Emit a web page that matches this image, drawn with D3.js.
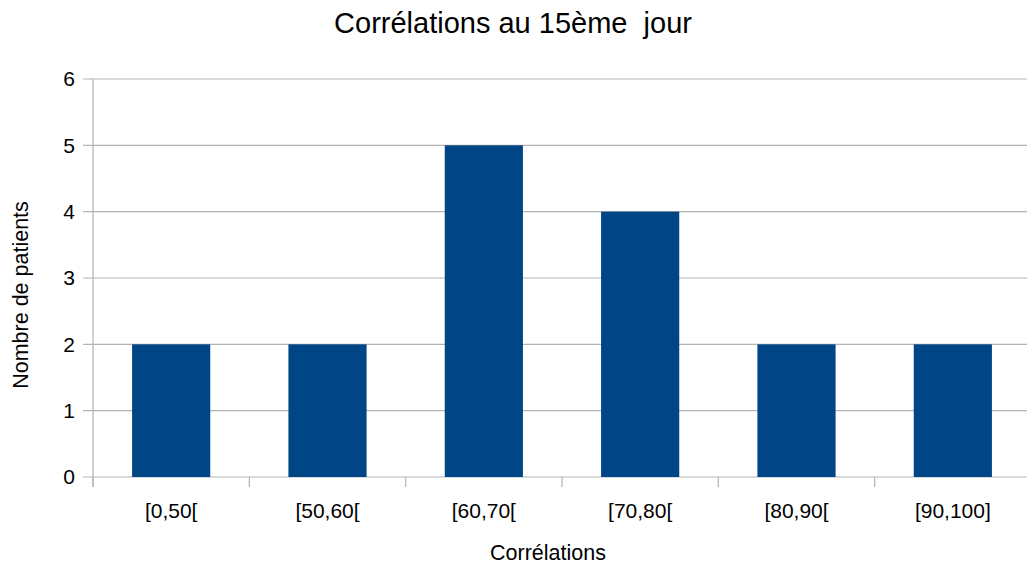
<!DOCTYPE html>
<html><head><meta charset="utf-8">
<script src="https://cdn.jsdelivr.net/npm/d3@7"></script>
<style>html,body{margin:0;padding:0;background:#fff;}svg{display:block;font-family:"Liberation Sans",Arial,sans-serif;}</style>
</head><body>
<svg id="c" width="1027" height="567"></svg>
<script>
const categories = ["[0,50[", "[50,60[", "[60,70[", "[70,80[", "[80,90[", "[90,100]"];
const values = [2, 2, 5, 4, 2, 2];
const yTicks = [0, 1, 2, 3, 4, 5, 6];
const title = "Corrélations au 15ème  jour";
const xTitle = "Corrélations";
const yTitle = "Nombre de patients";

(function () {
const svg = d3.select("#c");
const pLeft = 93, pRight = 1031, pTop = 79, pBottom = 477;
const x = d3.scaleBand().domain(categories).range([pLeft, pRight]).paddingInner(0.5).paddingOuter(0.25);
const y = d3.scaleLinear().domain([0, 6]).range([pBottom, pTop]);

// gridlines
svg.append("g").selectAll("line").data(yTicks).join("line")
  .attr("x1", pLeft - 10).attr("x2", 1027)
  .attr("y1", d => y(d)).attr("y2", d => y(d))
  .attr("stroke", "#b3b3b3").attr("stroke-width", 1.2);

// y axis line
svg.append("line").attr("x1", pLeft).attr("x2", pLeft).attr("y1", pTop).attr("y2", pBottom + 10)
  .attr("stroke", "#b3b3b3").attr("stroke-width", 1.2);

// x ticks at band boundaries
const step = x.step();
const bounds = d3.range(categories.length + 1).map(i => pLeft + i * step);
svg.append("g").selectAll("line").data(bounds).join("line")
  .attr("x1", d => d).attr("x2", d => d).attr("y1", pBottom).attr("y2", pBottom + 10)
  .attr("stroke", "#b3b3b3").attr("stroke-width", 1.2);

// bars
svg.append("g").selectAll("rect").data(values).join("rect")
  .attr("x", (d, i) => x(categories[i]))
  .attr("width", x.bandwidth())
  .attr("y", d => y(d))
  .attr("height", d => y(0) - y(d))
  .attr("fill", "#004586");

// y labels
svg.append("g").selectAll("text").data(yTicks).join("text")
  .attr("x", 75).attr("y", d => y(d)).attr("dy", "0.35em")
  .attr("text-anchor", "end").attr("font-size", 21).attr("fill", "#000")
  .text(d => d);

// x labels
svg.append("g").selectAll("text").data(categories).join("text")
  .attr("x", d => x(d) + x.bandwidth() / 2).attr("y", 518)
  .attr("text-anchor", "middle").attr("font-size", 21).attr("fill", "#000")
  .text(d => d);

svg.append("text").attr("x", 513).attr("y", 33).attr("text-anchor", "middle")
  .attr("font-size", 29).attr("fill", "#000").attr("xml:space", "preserve").style("white-space", "pre").text(title);
svg.append("text").attr("x", 548).attr("y", 560).attr("text-anchor", "middle")
  .attr("font-size", 21.5).attr("fill", "#000").text(xTitle);
svg.append("text").attr("transform", "translate(28,295) rotate(-90)").attr("text-anchor", "middle")
  .attr("font-size", 21.5).attr("fill", "#000").text(yTitle);
})();
</script>
</body></html>
